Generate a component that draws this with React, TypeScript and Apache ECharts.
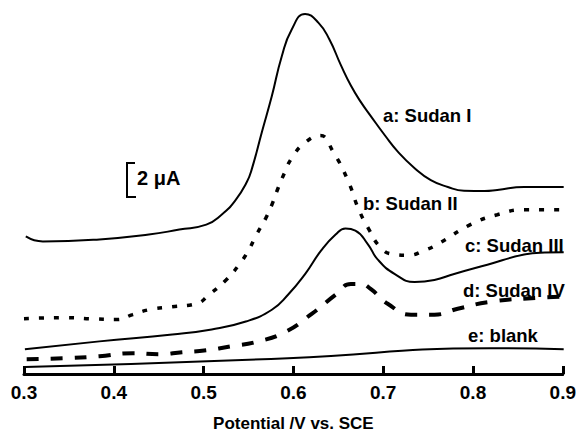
import React, { useEffect, useRef } from "react";
import * as echarts from "echarts";

// Potential (V vs. SCE) and current (µA, arbitrary offset)
const aPotential = [0.302, 0.321, 0.384, 0.439, 0.473, 0.503, 0.520, 0.535, 0.548, 0.554, 0.565, 0.576, 0.587, 0.598, 0.613, 0.628, 0.640, 0.653, 0.664, 0.675, 0.686, 0.702, 0.716, 0.735, 0.753, 0.772, 0.790, 0.813, 0.827, 0.857, 0.901];
const aCurrent = [8.18, 7.88, 8.0, 8.29, 8.59, 8.88, 9.47, 10.3, 11.4, 12.24, 14.41, 16.53, 18.88, 20.47, 21.41, 20.88, 19.9, 18.35, 17.15, 16.18, 15.35, 14.18, 13.24, 12.24, 11.53, 11.12, 10.9, 10.88, 10.94, 11.12, 11.12];

const bPotential = [0.300, 0.348, 0.373, 0.403, 0.421, 0.439, 0.465, 0.492, 0.506, 0.525, 0.539, 0.550, 0.559, 0.569, 0.576, 0.583, 0.590, 0.598, 0.613, 0.630, 0.644, 0.661, 0.672, 0.683, 0.697, 0.711, 0.727, 0.746, 0.764, 0.797, 0.827, 0.857, 0.901];
const bCurrent = [3.29, 3.35, 3.29, 3.24, 3.53, 3.82, 4.0, 4.18, 4.71, 5.59, 6.47, 7.35, 8.29, 9.24, 10.06, 11.06, 11.94, 12.82, 13.76, 14.18, 13.24, 11.47, 9.88, 8.71, 7.53, 7.12, 7.06, 7.35, 7.82, 8.88, 9.47, 9.76, 9.76];

const cPotential = [0.301, 0.384, 0.465, 0.509, 0.547, 0.576, 0.594, 0.613, 0.631, 0.647, 0.658, 0.669, 0.683, 0.694, 0.713, 0.735, 0.757, 0.779, 0.816, 0.857, 0.880, 0.901];
const cCurrent = [1.47, 1.94, 2.35, 2.65, 3.12, 3.82, 4.71, 5.94, 7.35, 8.29, 8.65, 8.53, 7.71, 6.8, 5.94, 5.47, 5.59, 5.95, 6.5, 7.1, 7.22, 7.24];

const dPotential = [0.303, 0.348, 0.384, 0.421, 0.451, 0.476, 0.503, 0.531, 0.561, 0.591, 0.620, 0.647, 0.664, 0.675, 0.686, 0.705, 0.731, 0.757, 0.783, 0.819, 0.871, 0.901];
const dCurrent = [0.88, 0.94, 1.06, 1.24, 1.18, 1.29, 1.41, 1.65, 1.94, 2.5, 3.56, 4.71, 5.35, 5.35, 5.06, 4.18, 3.53, 3.53, 3.88, 4.29, 4.53, 4.59];

const ePotential = [0.301, 0.594, 0.819, 0.901];
const eCurrent = [0.41, 0.94, 1.53, 1.47];

const xTicks = [0.3, 0.4, 0.5, 0.6, 0.7, 0.8, 0.9];
const curveLabels = ["a: Sudan I", "b: Sudan II", "c: Sudan III", "d: Sudan IV", "e: blank"];

const FONT = "'Liberation Sans', Arial, sans-serif";

function pairs(xs: number[], ys: number[]) {
  return xs.map((x, i) => [x, ys[i]]);
}

export default function App() {
  const ref = useRef<HTMLDivElement>(null);
  useEffect(() => {
    if (!ref.current) return;
    const chart = echarts.init(ref.current, null, { renderer: "svg" });
    const lineSeries = (name: string, data: number[][], style: any) => ({
      name,
      type: "line",
      data,
      smooth: 0.5,
      showSymbol: false,
      symbol: "none",
      lineStyle: { color: "#000", ...style },
    });
    const labelPos = [
      [383, 115],
      [363, 203],
      [465, 245],
      [463, 290],
      [468, 335],
    ];
    chart.setOption({
      animation: false,
      backgroundColor: "#fff",
      grid: { left: 24, right: 12, top: 4, bottom: 59 },
      xAxis: {
        type: "value",
        min: 0.3,
        max: 0.9,
        interval: 0.1,
        name: "Potential /V vs. SCE",
        nameLocation: "middle",
        nameGap: 41,
        nameTextStyle: { fontFamily: FONT, fontWeight: "bold", fontSize: 17, color: "#000" },
        axisLine: { show: true, lineStyle: { color: "#000", width: 3 } },
        axisTick: { show: true, inside: true, length: 8, lineStyle: { color: "#000", width: 3 } },
        axisLabel: {
          fontFamily: FONT,
          fontWeight: "bold",
          fontSize: 19,
          color: "#000",
          margin: 9,
          formatter: (v: number) => {
            const t = xTicks.find((k) => Math.abs(k - v) < 1e-6);
            return t !== undefined ? t.toFixed(1) : "";
          },
        },
        splitLine: { show: false },
      },
      yAxis: {
        type: "value",
        min: 0,
        max: 22,
        show: false,
        splitLine: { show: false },
      },
      series: [
        lineSeries("a", pairs(aPotential, aCurrent), { width: 2 }),
        lineSeries("b", pairs(bPotential, bCurrent), { width: 3.5, type: [5, 10] }),
        lineSeries("c", pairs(cPotential, cCurrent), { width: 2 }),
        lineSeries("d", pairs(dPotential, dCurrent), { width: 4, type: [12, 12] }),
        lineSeries("e", pairs(ePotential, eCurrent), { width: 2 }),
      ],
      graphic: [
        ...curveLabels.map((t, i) => ({
          type: "text",
          x: labelPos[i][0],
          y: labelPos[i][1],
          style: {
            text: t,
            fontFamily: FONT,
            fontWeight: "bold",
            fontSize: 18.5,
            fill: "#000",
            verticalAlign: "middle",
            textAlign: "left",
          },
        })),
        {
          type: "polyline",
          shape: { points: [[135, 163], [127, 163], [127, 197], [136, 197]] },
          style: { stroke: "#000", lineWidth: 2, fill: "none" },
        },
        {
          type: "text",
          x: 137,
          y: 178,
          style: {
            text: "2 μA",
            fontFamily: FONT,
            fontWeight: "bold",
            fontSize: 20,
            fill: "#000",
            verticalAlign: "middle",
          },
        },
      ],
    });
    return () => chart.dispose();
  }, []);
  return <div ref={ref} style={{ width: 579, height: 437, position: "absolute", left: 0, top: 0 }} />;
}
